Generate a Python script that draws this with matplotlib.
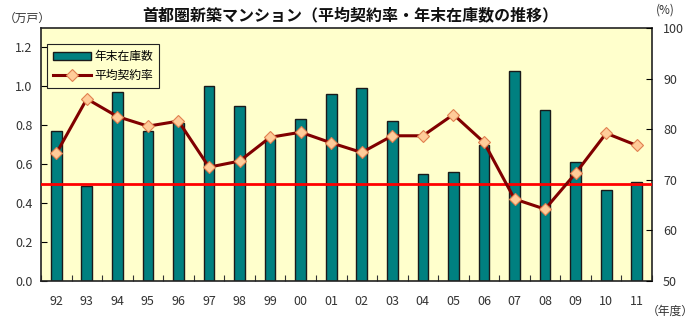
import matplotlib
matplotlib.use("Agg")
import matplotlib.pyplot as plt
import numpy as np

plt.rcParams['font.family'] = ['Noto Sans CJK JP', 'DejaVu Sans']

years = ["92", "93", "94", "95", "96", "97", "98", "99", "00", "01",
         "02", "03", "04", "05", "06", "07", "08", "09", "10", "11"]
stock = [0.77, 0.49, 0.97, 0.77, 0.81, 1.00, 0.90, 0.73, 0.83, 0.96,
         0.99, 0.82, 0.55, 0.56, 0.70, 1.08, 0.88, 0.61, 0.47, 0.51]
rate = [75.2, 86.0, 82.5, 80.6, 81.6, 72.5, 73.7, 78.4, 79.4, 77.3,
        75.4, 78.7, 78.7, 82.9, 77.4, 66.2, 64.2, 71.3, 79.2, 76.8]
left_ticks = [0.0, 0.2, 0.4, 0.6, 0.8, 1.0, 1.2]
right_ticks = [50, 60, 70, 80, 90, 100]
ref_level = 0.5

fig = plt.figure(figsize=(7.0, 3.22), dpi=100)
ax = fig.add_axes([41/700, 1-281/322, (652-41)/700, (281-28)/322])
ax.set_facecolor('#FFFFCC')
x = np.arange(len(years)) + 0.5

b = ax.bar(x, stock, width=0.35, color='#008080', edgecolor='#1a1a1a', linewidth=1.0,
           label='年末在庫数', zorder=2)
ax.set_xlim(0, len(years))
ax.set_ylim(0, 1.3)
ax.set_yticks(left_ticks)
ax.set_yticklabels([f"{v:.1f}" for v in left_ticks])
ax.set_xticks(np.arange(0, len(years) + 1))
ax.set_xticklabels([])
ax.set_xticks(x, minor=True)
ax.set_xticklabels(years, minor=True)
ax.tick_params(axis='x', which='major', direction='in', length=4, color='#333333')
ax.tick_params(axis='x', which='minor', length=0, pad=10, labelsize=9, labelcolor='#333333')
ax.tick_params(axis='y', direction='in', length=4, labelsize=9, labelcolor='#333333', pad=6)
for s in ax.spines.values():
    s.set_color('#222222')
    s.set_linewidth(1.2)

ax.axhline(ref_level, color='#FF0000', linewidth=2.0, zorder=4)

ax2 = ax.twinx()
ax2.set_ylim(50, 100)
ax2.set_yticks(right_ticks)
ax2.tick_params(axis='y', direction='in', length=4, labelsize=9, labelcolor='#333333', pad=8)
for s in ax2.spines.values():
    s.set_visible(False)
ln, = ax2.plot(x, rate, color='#800000', linewidth=2.2, marker='D', markersize=6.5,
               markerfacecolor='#FFCC99', markeredgecolor='#E08050', markeredgewidth=0.8,
               label='平均契約率', zorder=5)

leg = ax2.legend([b, ln], ['年末在庫数', '平均契約率'], loc='upper left',
                 bbox_to_anchor=(6/611, 1-16/253), borderaxespad=0, fontsize=8.5,
                 frameon=True, fancybox=False, edgecolor='#222222', borderpad=0.5,
                 handlelength=3.2, labelspacing=0.55, handletextpad=0.3, framealpha=1,
                 facecolor='#FFFFCC')
leg.get_frame().set_linewidth(0.8)
leg.set_zorder(10)

fig.text(0.5, 1-15/322, '首都圏新築マンション（平均契約率・年末在庫数の推移）',
         ha='center', va='center', fontsize=11.5, fontweight='bold', color='#111111')
fig.text(27/700, 1-18/322, '（万戸）', ha='center', va='center', fontsize=8.5, color='#333333')
fig.text(665/700, 1-10/322, '(%)', ha='center', va='center', fontsize=8.5, color='#333333')
fig.text(670/700, 1-311/322, '（年度）', ha='center', va='center', fontsize=8.5, color='#333333')

fig.savefig('out.png', dpi=100)
